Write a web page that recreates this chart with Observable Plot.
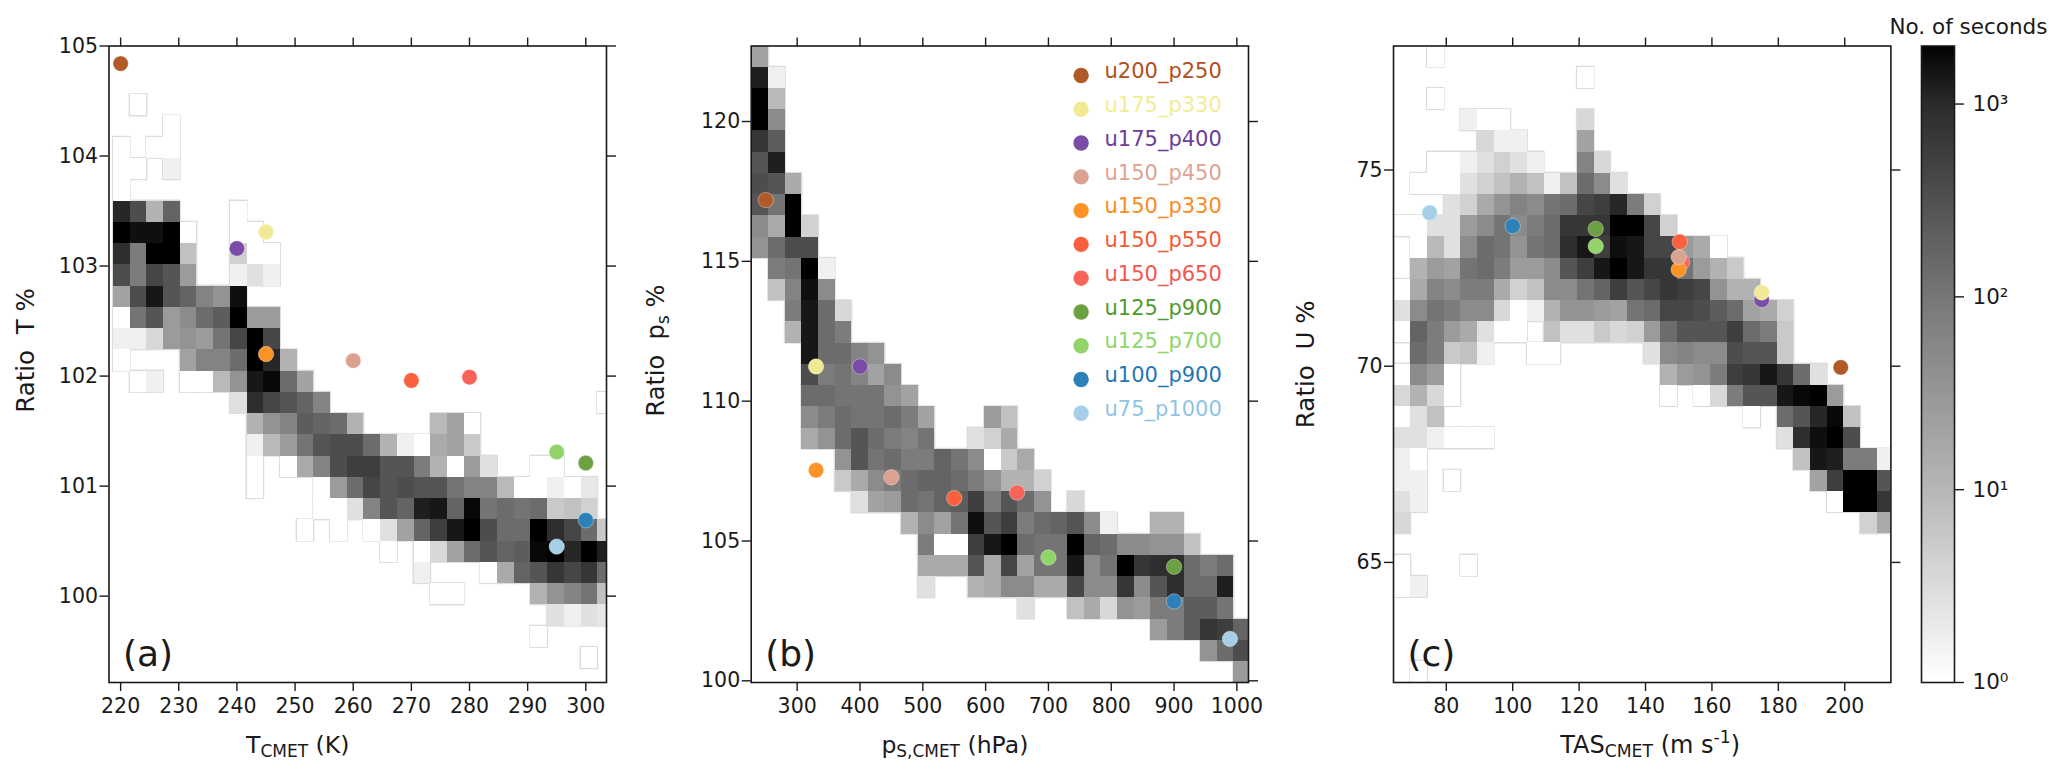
<!DOCTYPE html>
<html><head><meta charset="utf-8">
<script src="https://cdn.jsdelivr.net/npm/d3@7"></script>
<script src="https://cdn.jsdelivr.net/npm/@observablehq/plot@0.6"></script>
<style>
html,body{margin:0;padding:0;background:#fff;width:2067px;height:781px;overflow:hidden;font-family:"DejaVu Sans",sans-serif}
.p{position:absolute;top:0}
.p svg{display:block;max-width:none!important;overflow:visible}
</style></head><body><div id="root"></div>
<script>
// Each segment: [row, first column, values...]; values are the shade, 0 = white ... 33 = black.
const gridA=[[0,1,0],[1,3,0],[2,0,0],[2,2,0,0],[3,0,0,0],[3,3,2],[4,0,0],
[5,0,28,23,10,20],[5,7,0],[6,0,33,31,31,33,0],[6,7,0,0],[7,0,27,17,33,33,8],[7,7,6,0,0],
[8,0,23,17,24,22,13],[8,7,2,4,2],[9,0,12,23,30,22,20,16,14,31],[10,0,0,18,22,13,15,19,21,33,13,13],
[11,0,2,2,5,13,14,13,18,24,33,24],[12,0,0],[12,4,12,16,16,19,33,28,10],[13,1,0,2],[13,4,0,0,9,14,30,32,19,12],
[14,7,4,27,24,22,20,16],[14,29,0],[15,8,10,14,16,21,20,19,10],[15,19,9,12,0],
[16,8,2,9,13,18,22,23,23,19,10,2,0,11,12,7],[17,8,0],[17,10,0,11,16,23,25,25,22,22,17,10,0,13,4],[17,25,0,0],
[18,8,0],[18,12,0,13,19,24,22,23,22,22,18,16,16,9,0,0,2,0,3],[19,12,0,0,4,16,22,20,29,30,20,32,18,19,18,19,7,8,6],
[20,11,0],[20,13,0],[20,15,0,4,12,20,25,30,33,23,19,19,33,27,24,19,7],[21,16,0],[21,18,0,5,12,19,22,20,21,32,33,28,33,29],
[22,18,2],[22,22,0,11,20,22,26,24,26,19],[23,19,0,0],[23,25,10,14,16,18,8],[24,26,4,2,4,3],[25,25,0],[26,28,0]];
const gridB=[[0,0,12],[1,0,29,2],[2,0,33,9],[3,0,33,15],[4,0,26,21],[5,0,22,29],[6,0,23,22,11],[7,0,22,18,33],[8,0,15,11,33,6],
[9,0,14,19,23,23],[10,1,17,18,33,2],[11,1,8,16,31,15],[12,2,17,30,19,5],[13,2,10,30,19,17],[14,3,30,19,19,16,14],
[15,3,23,17,18,16,12,15],[16,3,19,19,18,18,18,14,12],[17,3,15,17,19,18,18,19,17,12],[17,14,13,8],[18,3,11,14,19,22,19,17,16,18],[18,13,4,6,11],
[19,5,14,22,18,19,17,17,20,18,15,0,7,11],[20,5,7,11,15,17,19,20,20,19,17,14,10,10,6],[21,6,4,12,13,19,18,20,21,25,17,22,19,14],[21,19,5],
[22,9,10,15,12,18,31,22,25,17,19,20,22,15,2],[22,24,10,10],[23,10,17,0,0,25,30,33,19,18,18,33,20,19,15,15,14,14,8],
[24,10,11,11,11,22,11,24,12,18,18,30,15,18,33,26,27,27,19,17,19],[25,10,4],[25,13,10,11,15,15,11,11,24,15,15,26,15,22,27,19,19,29],
[26,16,4],[26,19,8,11,5,14,13,17,17,21,21,18],[27,24,13,17,21,26,25,20],[28,27,14,19,23],[29,29,13]];
const gridC=[[0,2,0],[1,11,0],[2,2,0],[3,4,2,0,0],[3,11,5],[4,5,5,2,2],[4,11,12],[5,2,0,0,2,4,6,4,2],[5,11,16,5],
[6,1,0,0,0,4,6,8,10,8,2,8,19,15,4],[7,3,4,6,11,14,16,15,18,19,24,25,28,17,6],[8,0,0,0,4,4,13,15,18,15,17,19,26,26,26,33,33,24,6],
[9,1,0,9,4,15,19,18,14,18,19,27,30,25,31,30,24,24,13,11,0],[10,1,10,13,12,18,19,17,13,13,15,22,25,30,33,30,26,26,18,13,10,7],
[11,0,0,11,16,15,17,17,11,6,8,15,15,18,20,25,22,24,26,25,24,14,10,10],[12,0,4,15,18,17,15,15,5,0,2,10,14,14,13,12,18,19,24,24,23,21,19,12,11,6],
[13,0,0,20,17,13,11,4,0,0],[13,9,8,4,4,7,5,6,13,19,22,22,22,25,19,17,7],[14,1,19,17,7,8,2],[14,8,0,0],[14,15,4,15,16,15,15,23,22,22,7],
[15,0,0,15,13,0],[15,16,10,13,14,17,25,26,30,26,19,4],[16,0,5,10,5,0],[16,16,0],[16,18,0,5,17,22,22,30,32,33,13],
[17,0,0,4,8],[17,21,0],[17,23,19,22,28,32,8],[18,0,4,4,2,0,0,0],[18,23,4,27,31,33,23],[19,0,2,0],[19,24,8,30,29,17,17,2],
[20,0,2,2],[20,3,0],[20,25,12,25,33,33,22],[21,0,4,2],[21,26,0,33,33,26],[22,0,5],[22,28,6,11],[24,0,0],[24,4,0],[25,0,0,2],[29,1,0]];

const names=["u200_p250","u175_p330","u175_p400","u150_p450","u150_p330","u150_p550","u150_p650","u125_p900","u125_p700","u100_p900","u75_p1000"];
const dotColors=["#b15a28","#f0ea94","#7a4ca6","#dca290","#fd9226","#f9603e","#f8645a","#6ca042","#92d46a","#2c81b8","#a5cfe6"];
const textColors=["#b15020","#f2ec96","#6a3d9a","#dfa392","#fd8a1e","#f55a36","#f5564e","#4f9a30","#8fd66a","#1f78b4","#8fc4e3"];
const tempK=[220,245,240,260,245,270,280,300,295,300,295];
const ratioT=[104.84,103.31,103.16,102.14,102.2,101.96,101.99,101.21,101.31,100.69,100.45];
const presHPa=[250,330,400,450,330,550,650,900,700,900,989];
const ratioP=[117.19,111.24,111.24,107.28,107.53,106.53,106.73,104.08,104.41,102.84,101.5];
const tasMs=[198.8,175,175,150,150,150.3,151,125,125,100,75];
const ratioU=[69.97,71.88,71.69,72.78,72.46,73.17,72.65,73.5,73.06,73.57,73.91];

const cbTicks=[1,10,100,1000], cbLabels=["10⁰","10¹","10²","10³"];
const barSeconds=[1,10,100,1000,2000], barColors=["#ffffff","#b6b6b6","#767676","#2a2a2a","#000000"];
const color={type:"log",domain:barSeconds,range:barColors};
// shade -> seconds, through the colour bar
const shadeToLog=d3.scaleLinear().domain([0,(255-0xb6)/255*33,(255-0x76)/255*33,(255-0x2a)/255*33,33]).range(barSeconds.map(Math.log10));
const FONT="DejaVu Sans", INK="#1a1a1a";

function cells(grid,g){return grid.flatMap(([row,col,...vals])=>vals.map((t,i)=>({
  x1:g.x0+(col+i)*g.dx,x2:g.x0+(col+i+1)*g.dx,y1:g.y0-row*g.dy,y2:g.y0-(row+1)*g.dy,seconds:10**shadeToLog(t)})));}

function rich(svg,ph,parts,targetLen,dx){
  const t=d3.select(svg).selectAll("text").filter(function(){return this.textContent===ph;});
  t.text(null).style("white-space","pre");
  if(dx) t.attr("dx",dx);
  const apply=size=>{
    t.attr("font-size",size);
    let cur=0;
    t.selectAll("tspan").data(parts).join("tspan").text(d=>d[0])
      .attr("font-size",d=>d[1]?size*0.72:size)
      .attr("dy",d=>{const off=d[1]==="sub"?0.2:d[1]==="sup"?-0.38:0;const v=(off-cur)*size;cur=off;return v.toFixed(2);});
  };
  apply(22);
  const L=t.node().getComputedTextLength();
  if(L>0) apply(22*targetLen/L);
}

function panel(o,left){
  const c=cells(o.grid,o.g);
  const order=d3.range(names.length).reverse();
  const svg=Plot.plot({
    width:o.w,height:781,marginLeft:o.ml,marginRight:o.w-o.ml-o.pw,marginTop:45.5,marginBottom:99,
    style:{fontFamily:FONT,background:"transparent",overflow:"visible"},
    x:{domain:o.xd},y:{domain:o.yd},color,
    marks:[
      Plot.rect(c,{x1:"x1",x2:"x2",y1:"y1",y2:"y2",fill:"none",stroke:"#dcdcdc",strokeWidth:2,clip:"frame"}),
      Plot.rect(c,{x1:"x1",x2:"x2",y1:"y1",y2:"y2",fill:"seconds",clip:"frame",shapeRendering:"crispEdges"}),
      Plot.dot(order,{x:i=>o.px[i],y:i=>o.py[i],r:7.7,fill:{value:i=>dotColors[i],scale:null},stroke:"#fff",strokeWidth:0.6,strokeOpacity:0.6}),
      Plot.frame({stroke:INK,strokeWidth:1.6}),
      Plot.axisX(o.xt,{anchor:"bottom",tickSize:9,tickPadding:7,fontSize:20.5,tickFormat:d=>String(d),label:o.xph,labelAnchor:"center",labelOffset:o.xo,labelArrow:"none",stroke:INK,strokeWidth:1.4,color:INK}),
      Plot.axisX(o.xt,{anchor:"top",tickSize:9,tickFormat:()=>"",label:null,stroke:INK,strokeWidth:1.4}),
      Plot.axisY(o.yt,{anchor:"left",tickSize:9,tickPadding:2,fontSize:20.5,tickFormat:d=>String(d),label:o.yph,labelAnchor:"center",labelOffset:o.yo,labelArrow:"none",stroke:INK,strokeWidth:1.4,color:INK}),
      Plot.axisY(o.yt,{anchor:"right",tickSize:9,tickFormat:()=>"",label:null,stroke:INK,strokeWidth:1.4}),
      Plot.text([o.tag],{frameAnchor:"bottom-left",dx:14,dy:-17,fontSize:36,textAnchor:"start",fill:INK,fontFamily:FONT})
    ]
  });
  place(svg,left,o.w);
  rich(svg,o.xph,o.xparts,o.xlen,o.xdx);
  rich(svg,o.yph,o.yparts,o.ylen,o.ydx);
}
function place(node,left,width,top=0){
  const d=document.createElement("div");d.className="p";d.style.left=left+"px";d.style.width=width+"px";d.style.top=top+"px";
  d.appendChild(node);document.getElementById("root").appendChild(d);
}

panel({w:640,ml:108.5,pw:497.5,grid:gridA,g:{x0:218.76,dx:2.872,y0:104.557,dy:0.1932},
  xd:[218,303.56],yd:[99.215,105],xt:d3.range(220,301,10),yt:[100,101,102,103,104,105],px:tempK,py:ratioT,tag:"(a)",
  xph:"T_CMET (K)",xparts:[["T"],["CMET","sub"],[" (K)"]],xo:70,xdx:-60,xlen:103.6,
  yph:"Ratio T %",yparts:[["Ratio  T %"]],yo:92,ydx:13.7,ylen:124.5},0);

panel({w:640,ml:110.7,pw:497.3,grid:gridB,g:{x0:228.2,dx:26.45,y0:122.7,dy:0.759},
  xd:[226.8,1018.5],yd:[99.94,122.7],xt:d3.range(300,1001,100),yt:[100,105,110,115,120],px:presHPa,py:ratioP,tag:"(b)",
  xph:"p_S (hPa)",xparts:[["p"],["S,CMET","sub"],[" (hPa)"]],xo:70,xdx:-45,xlen:147,
  yph:"Ratio p_s %",yparts:[["Ratio  p"],["s","sub"],[" %"]],yo:104,ydx:13.7,ylen:132},640);

panel({w:640,ml:113,pw:497.4,grid:gridC,g:{x0:64.29,dx:5.017,y0:78.16,dy:0.5405},
  xd:[64.1,213.9],yd:[61.94,78.16],xt:d3.range(80,201,20),yt:[65,70,75],px:tasMs,py:ratioU,tag:"(c)",
  xph:"TAS_CMET",xparts:[["TAS"],["CMET","sub"],[" (m s"],["-1","sup"],[")"]],xo:70,xdx:8,xlen:180,
  yph:"Ratio U %",yparts:[["Ratio  U %"]],yo:97,ydx:0,ylen:128},1280);

// Colour bar
const steps=d3.range(0,256).map(i=>({a:10**(i/256*Math.log10(2000)),b:10**((i+1)/256*Math.log10(2000))}));
place(Plot.plot({
  width:187,height:781,marginLeft:41,marginRight:113,marginTop:45.5,marginBottom:99,
  style:{fontFamily:FONT,background:"transparent",overflow:"visible"},
  x:{axis:null,domain:[0,1]},y:{type:"log",domain:[1,2000]},color,
  marks:[
    Plot.rect(steps,{x1:0,x2:1,y1:"a",y2:"b",fill:"a",shapeRendering:"crispEdges"}),
    Plot.frame({stroke:INK,strokeWidth:1.6}),
    Plot.axisY(cbTicks,{anchor:"right",tickSize:9,tickPadding:9,fontSize:21.5,tickFormat:d=>cbLabels[cbTicks.indexOf(d)],label:null,stroke:INK,strokeWidth:1.4,color:INK}),
    Plot.text(["No. of seconds"],{frameAnchor:"top-left",dx:-32,dy:-19,textAnchor:"start",lineAnchor:"middle",fontSize:21.5,fill:INK,fontFamily:FONT})
  ]}),1880,187);

// Legend inside panel (b)
place(Plot.plot({
  width:190,height:400,margin:0,
  style:{fontFamily:FONT,background:"transparent",overflow:"visible"},
  y:{type:"point",domain:names,range:[25,362.8],padding:0,round:false,axis:null},color:{type:"identity"},
  marks:[
    Plot.dot(names,{y:d=>d,frameAnchor:"left",dx:20.6,r:7.7,fill:d=>dotColors[names.indexOf(d)]}),
    Plot.text(names,{y:d=>d,frameAnchor:"left",dx:44,dy:-4,text:d=>d,textAnchor:"start",fontSize:21,fill:d=>textColors[names.indexOf(d)],fontFamily:FONT})
  ]}),1060,190,50);
</script></body></html>
